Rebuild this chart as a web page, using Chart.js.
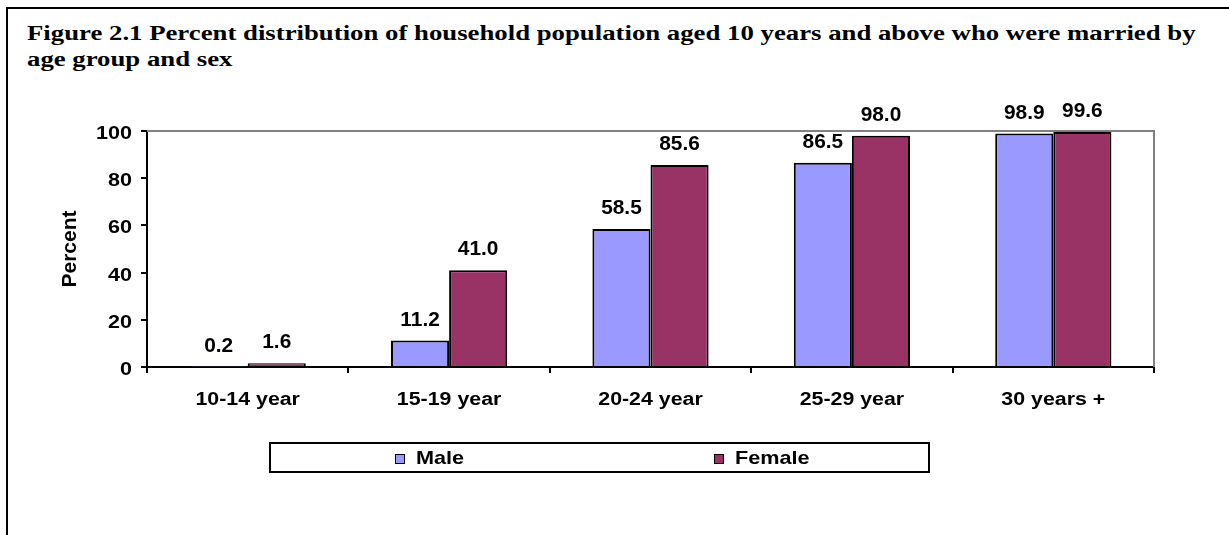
<!DOCTYPE html>
<html>
<head>
<meta charset="utf-8">
<script src="https://cdn.jsdelivr.net/npm/chart.js@4"></script>
<style>
  html, body { margin: 0; padding: 0; background: #fff; }
  #wrap { position: relative; width: 1229px; height: 535px; overflow: hidden; }
  #frame { position: absolute; left: 6px; top: 7px; width: 1240px; height: 600px;
           border-left: 2px solid #000; border-top: 2px solid #000; }
  #title { position: absolute; left: 27px; top: 20px; width: 900px; white-space: nowrap;
           font: bold 20px/26px "Liberation Serif", "Times New Roman", serif; color: #000;
           transform: scaleX(1.338); transform-origin: left top; }
  #chart { position: absolute; left: 0; top: 0; }
  #legend { position: absolute; left: 269px; top: 442px; width: 657px; height: 27px;
            border: 2px solid #000; font: bold 19px "Liberation Sans", Arial, sans-serif; }
  .swatch { position: absolute; top: 10px; width: 8px; height: 8px; border: 1.5px solid #000; }
  .label { position: absolute; top: 3px; line-height: 22px; transform: scaleX(1.14); transform-origin: left top; }
</style>
</head>
<body>
<div id="wrap">
  <div id="frame"></div>
  <div id="title">Figure 2.1 Percent distribution of household population aged 10 years and above who were married by<br>age group and sex</div>
  <canvas id="chart" width="1229" height="535"></canvas>
  <div id="legend">
    <span class="swatch" style="left:124px;background:#9999FF"></span>
    <span class="label" style="left:145px">Male</span>
    <span class="swatch" style="left:443px;background:#993366"></span>
    <span class="label" style="left:464px">Female</span>
  </div>
</div>
<script>
const categories = ['10-14 year', '15-19 year', '20-24 year', '25-29 year', '30 years +'];
const maleValues = [0.2, 11.2, 58.5, 86.5, 98.9];
const femaleValues = [1.6, 41.0, 85.6, 98.0, 99.6];
const yTicks = [0, 20, 40, 60, 80, 100];

const FONT = '"Liberation Sans", Arial, sans-serif';

// the source text is a bit wider than Arial, so draw it stretched
function wideText(ctx, text, x, y, size, sx, align) {
  ctx.save();
  ctx.translate(x, y);
  ctx.scale(sx, 1);
  ctx.font = 'bold ' + size + 'px ' + FONT;
  ctx.textAlign = align;
  ctx.textBaseline = 'alphabetic';
  ctx.fillStyle = '#000';
  ctx.fillText(text, 0, 0);
  ctx.restore();
}

const extras = {
  id: 'extras',
  afterDatasetsDraw(chart) {
    const ctx = chart.ctx;
    const area = chart.chartArea;
    const xs = chart.scales.x;
    const ys = chart.scales.y;

    // grey top/right edge of the plot area
    ctx.save();
    ctx.strokeStyle = '#808080';
    ctx.lineWidth = 2;
    ctx.beginPath();
    ctx.moveTo(area.left, area.top);
    ctx.lineTo(area.right, area.top);
    ctx.lineTo(area.right, area.bottom);
    ctx.stroke();
    ctx.restore();

    categories.forEach((c, i) => {
      wideText(ctx, c, xs.getPixelForTick(i), area.bottom + 38, 17.5, 1.22, 'center');
    });
    yTicks.forEach(v => {
      wideText(ctx, String(v), area.left - 15, ys.getPixelForValue(v) + 8, 17.7, 1.22, 'right');
    });

    chart.data.datasets.forEach((ds, i) => {
      chart.getDatasetMeta(i).data.forEach((bar, j) => {
        wideText(ctx, ds.data[j].toFixed(1), bar.x, bar.y - 15, 19.5, 1.07, 'center');
      });
    });
  }
};

new Chart(document.getElementById('chart'), {
  type: 'bar',
  data: {
    labels: categories,
    datasets: [
      {
        label: 'Male',
        data: maleValues,
        backgroundColor: '#9999FF',
        borderColor: '#000',
        borderWidth: 2
      },
      {
        label: 'Female',
        data: femaleValues,
        backgroundColor: '#993366',
        borderColor: '#000',
        borderWidth: 2
      }
    ]
  },
  options: {
    responsive: false,
    animation: false,
    events: [],
    layout: { padding: { left: 54, top: 131, right: 75, bottom: 118 } },
    datasets: { bar: { categoryPercentage: 0.577, barPercentage: 1.0 } },
    plugins: { legend: { display: false }, tooltip: { enabled: false } },
    scales: {
      x: {
        afterFit: s => { s.height = 50; },
        grid: { drawOnChartArea: false, drawTicks: true, tickLength: 6, color: '#000', lineWidth: 2 },
        border: { display: true, color: '#000', width: 2 },
        ticks: { display: false }
      },
      y: {
        min: 0,
        max: 100,
        afterFit: s => { s.width = 93; },
        afterBuildTicks: s => { s.ticks = yTicks.map(v => ({ value: v })); },
        grid: { drawOnChartArea: false, drawTicks: true, tickLength: 6, color: '#000', lineWidth: 2 },
        border: { display: true, color: '#000', width: 2 },
        ticks: { display: false },
        title: {
          display: true,
          text: 'Percent',
          color: '#000',
          font: { family: FONT, size: 21, weight: 'bold' }
        }
      }
    }
  },
  plugins: [extras]
});
</script>
</body>
</html>
